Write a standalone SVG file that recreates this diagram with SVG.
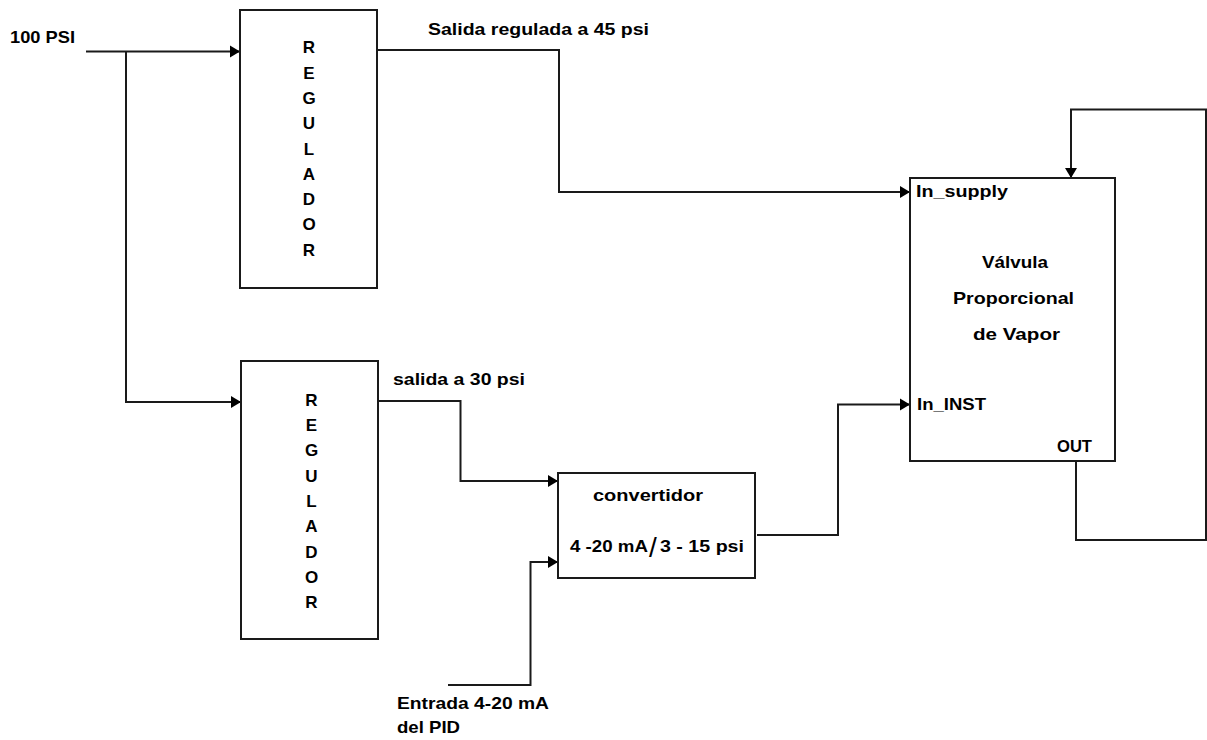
<svg xmlns="http://www.w3.org/2000/svg" width="1207" height="740" viewBox="0 0 1207 740">
<style>
  .box { fill: #ffffff; stroke: #1a1a1a; stroke-width: 2; }
  .wire { fill: none; stroke: #1a1a1a; stroke-width: 2; }
  .arr { marker-end: url(#ah); }
  text { font-family: "Liberation Sans", Arial, sans-serif; font-weight: bold; font-size: 17px; fill: #000; }
  .c { text-anchor: middle; }
</style>
<defs>
  <marker id="ah" markerUnits="userSpaceOnUse" markerWidth="11" markerHeight="13" refX="10" refY="6.5" orient="auto">
    <path d="M0,0.5 L10,6.5 L0,12.5 z" fill="#000"/>
  </marker>
</defs>
<rect width="1207" height="740" fill="#ffffff"/>

<g id="connectors">
  <path class="wire arr" d="M86,51.5 H240"/>
  <path class="wire arr" d="M126,51.5 V402 H241"/>
  <path class="wire arr" d="M377,50 H559 V192 H910"/>
  <path class="wire arr" d="M378,401 H460.5 V481 H558"/>
  <path class="wire arr" d="M448,685 H530.5 V562 H558"/>
  <path class="wire arr" d="M757,535 H838 V404.5 H910"/>
  <path class="wire arr" d="M1076,461 V540 H1206 V109.5 H1071 V178"/>
</g>

<g id="label-100psi">
  <text x="10" y="43" textLength="65" lengthAdjust="spacingAndGlyphs">100 PSI</text>
</g>
<g id="label-salida45">
  <text x="428" y="34.5" textLength="221" lengthAdjust="spacingAndGlyphs">Salida regulada a 45 psi</text>
</g>
<g id="label-salida30">
  <text x="393" y="385" textLength="132" lengthAdjust="spacingAndGlyphs">salida a 30 psi</text>
</g>
<g id="label-entrada">
  <text x="397" y="709" textLength="152" lengthAdjust="spacingAndGlyphs">Entrada 4-20 mA</text>
  <text x="397" y="733" textLength="63" lengthAdjust="spacingAndGlyphs">del PID</text>
</g>

<g id="regulador1">
  <rect class="box" x="240" y="10" width="137" height="278"/>
  <text class="c" x="309" y="53.3">R</text>
  <text class="c" x="309" y="78.6">E</text>
  <text class="c" x="309" y="103.9">G</text>
  <text class="c" x="309" y="129.2">U</text>
  <text class="c" x="309" y="154.5">L</text>
  <text class="c" x="309" y="179.8">A</text>
  <text class="c" x="309" y="205.1">D</text>
  <text class="c" x="309" y="230.4">O</text>
  <text class="c" x="309" y="255.7">R</text>
</g>

<g id="regulador2">
  <rect class="box" x="241" y="361" width="137" height="278"/>
  <text class="c" x="311.5" y="405.7">R</text>
  <text class="c" x="311.5" y="431">E</text>
  <text class="c" x="311.5" y="456.3">G</text>
  <text class="c" x="311.5" y="481.6">U</text>
  <text class="c" x="311.5" y="506.9">L</text>
  <text class="c" x="311.5" y="532.2">A</text>
  <text class="c" x="311.5" y="557.5">D</text>
  <text class="c" x="311.5" y="582.8">O</text>
  <text class="c" x="311.5" y="608.1">R</text>
</g>

<g id="convertidor">
  <rect class="box" x="558" y="473" width="197" height="105"/>
  <text x="593" y="501" textLength="110" lengthAdjust="spacingAndGlyphs">convertidor</text>
  <text x="570" y="551.5" textLength="78" lengthAdjust="spacingAndGlyphs">4 -20 mA</text>
  <text x="649" y="557" style="font-weight:normal;font-size:28px">/</text>
  <text x="660" y="551.5" textLength="84" lengthAdjust="spacingAndGlyphs">3 - 15 psi</text>
</g>

<g id="valvula">
  <rect class="box" x="910" y="178" width="205" height="283"/>
  <text x="916" y="196.5" textLength="92" lengthAdjust="spacingAndGlyphs">In_supply</text>
  <text x="982" y="268" textLength="66" lengthAdjust="spacingAndGlyphs">Válvula</text>
  <text x="953" y="304" textLength="121" lengthAdjust="spacingAndGlyphs">Proporcional</text>
  <text x="973" y="340" textLength="87" lengthAdjust="spacingAndGlyphs">de Vapor</text>
  <text x="917" y="410" textLength="69" lengthAdjust="spacingAndGlyphs">In_INST</text>
  <text x="1057" y="451.5" textLength="35" lengthAdjust="spacingAndGlyphs">OUT</text>
</g>
</svg>
